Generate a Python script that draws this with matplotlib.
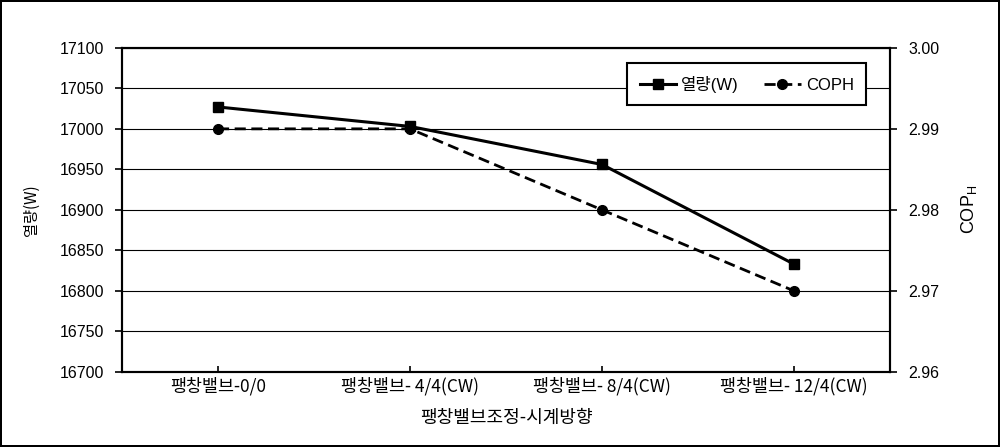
import matplotlib
matplotlib.use("Agg")
import matplotlib.pyplot as plt

plt.rcParams['font.family'] = ['Liberation Sans', 'Noto Sans CJK KR']

categories = ['팽창밸브-0/0', '팽창밸브- 4/4(CW)', '팽창밸브- 8/4(CW)', '팽창밸브- 12/4(CW)']
heat = [17027, 17003, 16956, 16833]
cop = [2.99, 2.99, 2.98, 2.97]
left_ticks = [16700, 16750, 16800, 16850, 16900, 16950, 17000, 17050, 17100]
right_ticks = [2.96, 2.97, 2.98, 2.99, 3.00]

fig = plt.figure(figsize=(10, 4.47), dpi=100)
fig.patch.set_edgecolor('black')
fig.patch.set_linewidth(1.5)
ax = fig.add_axes([0.122, 0.168, 0.768, 0.725])
ax2 = ax.twinx()

x = list(range(len(categories)))
l1, = ax.plot(x, heat, '-', color='black', lw=2.2, marker='s', ms=7, zorder=3)
l2, = ax2.plot(x, cop, '--', color='black', lw=2.0, marker='o', ms=7, dashes=(4, 2), zorder=3)

ax.set_xlim(-0.5, 3.5)
ax.set_ylim(16700, 17100)
ax.set_yticks(left_ticks)
ax.set_yticklabels([str(t) for t in left_ticks], fontsize=11.5)
ax2.set_ylim(2.96, 3.00)
ax2.set_yticks(right_ticks)
ax2.set_yticklabels([f'{t:.2f}' for t in right_ticks], fontsize=11.5)

ax.set_xticks(x)
ax.set_xticklabels(categories, fontsize=12.5, family=['Noto Sans CJK KR'])
ax.tick_params(axis='x', direction='in', length=4, width=1.2, pad=4)
ax.tick_params(axis='y', direction='out', length=5, width=1.2, pad=8)
ax2.tick_params(axis='y', direction='out', length=5, width=1.2, pad=8)

ax.yaxis.grid(True, color='black', lw=0.8)
ax.set_axisbelow(True)
for a in (ax, ax2):
    for s in a.spines.values():
        s.set_linewidth(1.5)

ax.set_xlabel('팽창밸브조정-시계방향', fontsize=13, family=['Noto Sans CJK KR'], labelpad=9)
ax.set_ylabel('열량(W)', fontsize=11, family=['Noto Sans CJK KR'], labelpad=14)
ax2.set_ylabel('COP$_\\mathregular{H}$', fontsize=13, labelpad=14)

leg = ax2.legend([l1, l2], ['열량(W)', 'COPH'], loc='upper right', ncol=2,
                 bbox_to_anchor=(0.98, 0.978), fancybox=False, framealpha=1,
                 edgecolor='black', handlelength=2.2,
                 columnspacing=1.5, borderpad=0.75, handletextpad=0.3,
                 prop={'family': ['Liberation Sans', 'Noto Sans CJK KR'], 'size': 12})
leg.get_frame().set_linewidth(1.5)

fig.savefig('out.png', dpi=100, edgecolor=fig.get_edgecolor())
